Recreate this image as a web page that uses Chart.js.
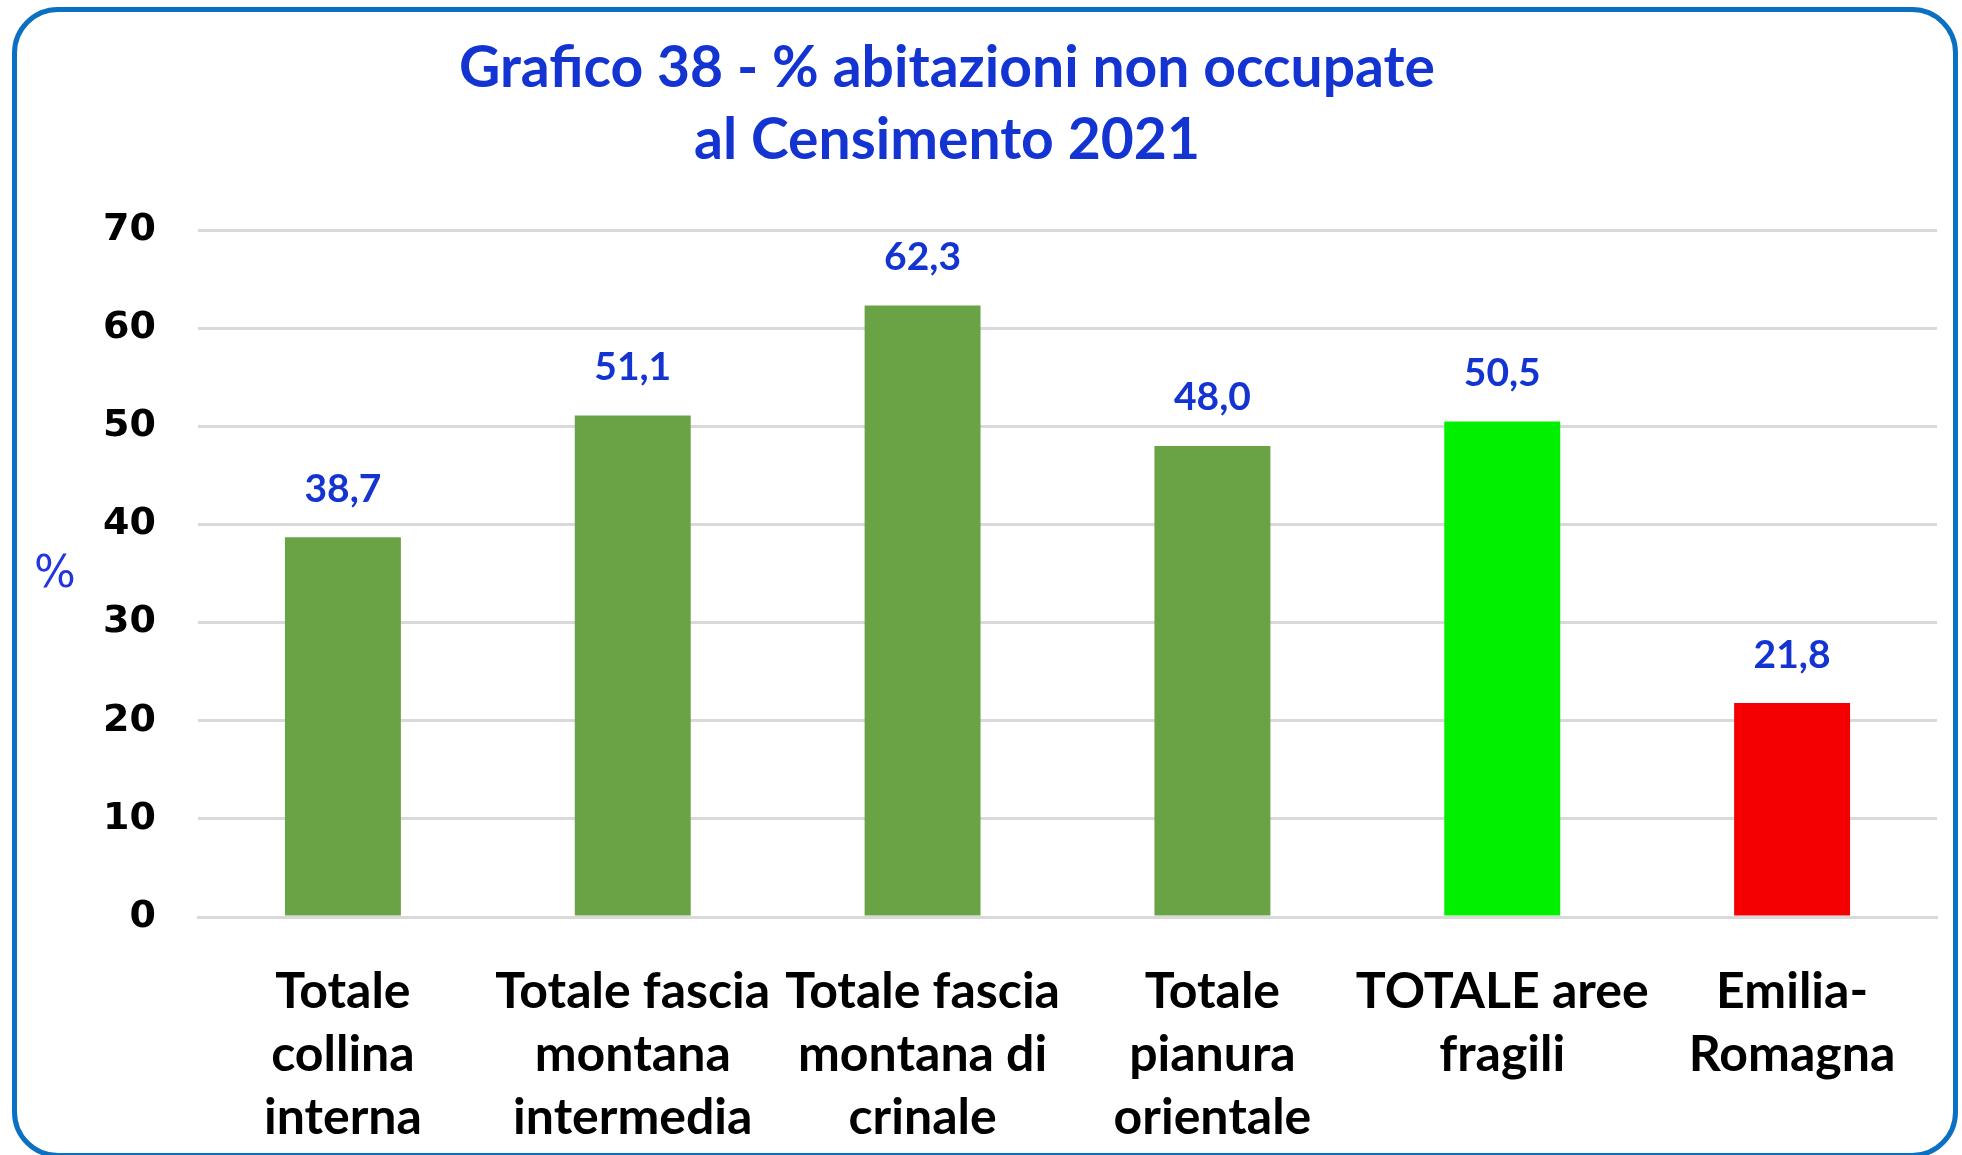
<!DOCTYPE html>
<html>
<head>
<meta charset="utf-8">
<script src="https://cdn.jsdelivr.net/npm/chart.js@4.4.1/dist/chart.umd.min.js"></script>
<style>
  html, body { margin: 0; padding: 0; background: #fff; }
  #wrap { position: absolute; left: 0; top: 0; width: 1962px; height: 1155px; }
  #frame {
    position: absolute; left: 12px; top: 7px; width: 1936px; height: 1141px;
    border: 5px solid #0c70c2; border-radius: 46px; pointer-events: none;
  }
</style>
</head>
<body>
<div id="wrap">
  <canvas id="grafico"></canvas>
  <div id="frame"></div>
</div>
<script>
const titolo = ['Grafico 38 - % abitazioni non occupate', 'al Censimento 2021'];
const categorie = [
    ['Totale', 'collina', 'interna'],
    ['Totale fascia', 'montana', 'intermedia'],
    ['Totale fascia', 'montana di', 'crinale'],
    ['Totale', 'pianura', 'orientale'],
    ['TOTALE aree', 'fragili'],
    ['Emilia-', 'Romagna']
];
const valori = [38.7, 51.1, 62.3, 48.0, 50.5, 21.8];
const colori = ['#6aa345', '#6aa345', '#6aa345', '#6aa345', '#00f000', '#f40000'];
const tickY = [0, 10, 20, 30, 40, 50, 60, 70];

const blu = '#1434d2';

// etichette sopra le barre, titolo e simbolo %
const testiExtra = {
    id: 'testiExtra',
    afterDatasetsDraw(chart) {
        const ctx = chart.ctx;
        const meta = chart.getDatasetMeta(0);
        ctx.save();
        ctx.fillStyle = blu;
        ctx.textAlign = 'center';
        ctx.textBaseline = 'middle';
        ctx.font = 'bold 39px Lato';
        meta.data.forEach(function (bar, i) {
            ctx.fillText(valori[i].toFixed(1).replace('.', ','), bar.x, bar.y - 48);
        });

        ctx.font = 'bold 57px Lato';
        ctx.fillText(titolo[0], 947, 69);
        ctx.fillText(titolo[1], 947, 141);

        const area = chart.chartArea;
        ctx.font = '44px "DejaVu Sans"';
        ctx.fillStyle = '#2236e0';
        ctx.fillText('%', 55, (area.top + area.bottom) / 2 + 2);
        ctx.restore();
    }
};

const ctx = document.getElementById('grafico').getContext('2d');
new Chart(ctx, {
    type: 'bar',
    data: {
        labels: categorie,
        datasets: [{
            label: '% abitazioni non occupate',
            data: valori,
            backgroundColor: colori,
            borderWidth: 0,
            barPercentage: 0.4,
            categoryPercentage: 1
        }]
    },
    options: {
        responsive: true,
        maintainAspectRatio: false,
        animation: false,
        layout: {
            padding: { left: 0, right: 25, top: 230, bottom: 0 }
        },
        plugins: {
            legend: { display: false },
            title: { display: false },
            tooltip: { enabled: false }
        },
        scales: {
            x: {
                grid: { display: false },
                border: { display: true, color: '#d9d9d9', width: 3 },
                ticks: {
                    color: '#000',
                    font: { family: 'Lato', weight: 'bold', size: 50, lineHeight: 1.26 },
                    padding: 35,
                    autoSkip: false,
                    maxRotation: 0,
                    minRotation: 0
                },
                afterFit(scale) { scale.height = 238; }
            },
            y: {
                min: 0,
                max: 70,
                afterBuildTicks(scale) { scale.ticks = tickY.map(v => ({ value: v })); },
                grid: { color: '#d9d9d9', lineWidth: 3, drawTicks: false },
                border: { display: false },
                ticks: {
                    color: '#000',
                    font: { family: 'DejaVu Sans', weight: 'bold', size: 38 },
                    padding: 42
                },
                afterFit(scale) { scale.width = 198; }
            }
        }
    },
    plugins: [testiExtra]
});
</script>
</body>
</html>
